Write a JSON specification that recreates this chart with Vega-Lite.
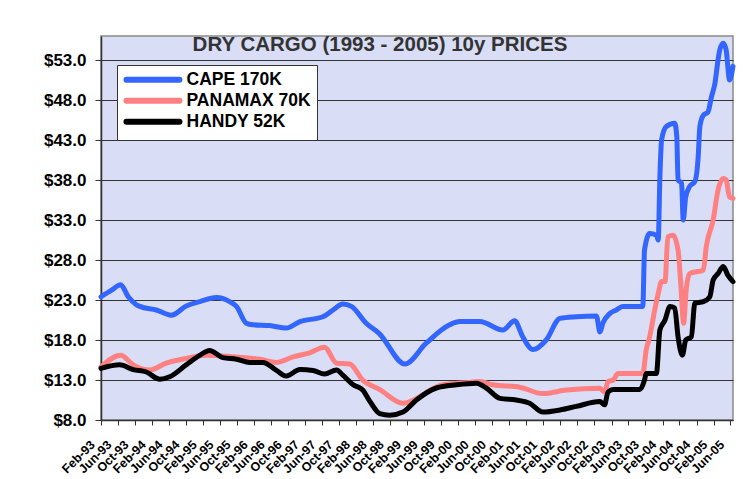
{
  "$schema": "https://vega.github.io/schema/vega-lite/v6.json",
  "width": 632,
  "height": 384,
  "autosize": {"type": "none"},
  "padding": {"left": 101, "top": 36, "right": 10, "bottom": 59},
  "background": "white",
  "title": {
    "text": "DRY CARGO (1993 - 2005) 10y PRICES",
    "font": "Liberation Sans",
    "fontSize": 20.5,
    "fontWeight": "bold",
    "color": "#333333",
    "anchor": "middle",
    "dx": -37,
    "baseline": "alphabetic",
    "offset": -35
  },
  "config": {
    "view": {"fill": "#D9DDF5", "stroke": "#8a8a8a", "strokeWidth": 1.5},
    "legend": {
      "orient": "none",
      "legendX": 16,
      "legendY": 29,
      "fillColor": "white",
      "strokeColor": "#333333",
      "padding": 6,
      "symbolType": "M-1,0H9",
      "symbolSize": 112.4,
      "symbolStrokeWidth": 6,
      "labelFont": "Liberation Sans",
      "labelFontSize": 17.5,
      "labelFontWeight": "bold",
      "labelColor": "black",
      "labelOffset": 46,
      "rowPadding": -4
    }
  },
  "datasets": {
    "prices": [
      {"d": "1993-02-01", "s": "CAPE 170K", "v": 23.4},
      {"d": "1993-04-15", "s": "CAPE 170K", "v": 24.2},
      {"d": "1993-06-22", "s": "CAPE 170K", "v": 24.9},
      {"d": "1993-08-15", "s": "CAPE 170K", "v": 23.4},
      {"d": "1993-10-13", "s": "CAPE 170K", "v": 22.4},
      {"d": "1993-11-06", "s": "CAPE 170K", "v": 22.2},
      {"d": "1994-03-04", "s": "CAPE 170K", "v": 21.75},
      {"d": "1994-06-19", "s": "CAPE 170K", "v": 21.1},
      {"d": "1994-10-04", "s": "CAPE 170K", "v": 22.25},
      {"d": "1995-01-10", "s": "CAPE 170K", "v": 22.8},
      {"d": "1995-05-07", "s": "CAPE 170K", "v": 23.3},
      {"d": "1995-08-10", "s": "CAPE 170K", "v": 22.8},
      {"d": "1995-09-28", "s": "CAPE 170K", "v": 22.2},
      {"d": "1995-12-07", "s": "CAPE 170K", "v": 20.1},
      {"d": "1996-01-25", "s": "CAPE 170K", "v": 19.9},
      {"d": "1996-05-22", "s": "CAPE 170K", "v": 19.8},
      {"d": "1996-09-19", "s": "CAPE 170K", "v": 19.5},
      {"d": "1996-12-25", "s": "CAPE 170K", "v": 20.3},
      {"d": "1997-06-07", "s": "CAPE 170K", "v": 20.9},
      {"d": "1997-08-19", "s": "CAPE 170K", "v": 21.75},
      {"d": "1997-10-28", "s": "CAPE 170K", "v": 22.5},
      {"d": "1997-12-28", "s": "CAPE 170K", "v": 22.2},
      {"d": "1998-04-13", "s": "CAPE 170K", "v": 20.1},
      {"d": "1998-07-16", "s": "CAPE 170K", "v": 18.8},
      {"d": "1999-01-15", "s": "CAPE 170K", "v": 15.0},
      {"d": "1999-06-16", "s": "CAPE 170K", "v": 17.6},
      {"d": "1999-12-01", "s": "CAPE 170K", "v": 19.9},
      {"d": "2000-02-13", "s": "CAPE 170K", "v": 20.3},
      {"d": "2000-07-04", "s": "CAPE 170K", "v": 20.3},
      {"d": "2000-12-16", "s": "CAPE 170K", "v": 19.25},
      {"d": "2001-03-10", "s": "CAPE 170K", "v": 20.4},
      {"d": "2001-05-07", "s": "CAPE 170K", "v": 18.4},
      {"d": "2001-07-19", "s": "CAPE 170K", "v": 16.8},
      {"d": "2001-10-22", "s": "CAPE 170K", "v": 18.0},
      {"d": "2002-01-28", "s": "CAPE 170K", "v": 20.7},
      {"d": "2002-05-25", "s": "CAPE 170K", "v": 20.9},
      {"d": "2002-10-16", "s": "CAPE 170K", "v": 21.0},
      {"d": "2002-11-10", "s": "CAPE 170K", "v": 19.0},
      {"d": "2002-12-01", "s": "CAPE 170K", "v": 20.1},
      {"d": "2003-01-19", "s": "CAPE 170K", "v": 21.3},
      {"d": "2003-03-07", "s": "CAPE 170K", "v": 21.75},
      {"d": "2003-04-22", "s": "CAPE 170K", "v": 22.2},
      {"d": "2003-09-13", "s": "CAPE 170K", "v": 22.2},
      {"d": "2003-09-25", "s": "CAPE 170K", "v": 29.25},
      {"d": "2003-11-01", "s": "CAPE 170K", "v": 31.3},
      {"d": "2003-12-19", "s": "CAPE 170K", "v": 31.1},
      {"d": "2004-01-01", "s": "CAPE 170K", "v": 30.5},
      {"d": "2004-01-13", "s": "CAPE 170K", "v": 38.4},
      {"d": "2004-01-25", "s": "CAPE 170K", "v": 43.0},
      {"d": "2004-02-28", "s": "CAPE 170K", "v": 44.7},
      {"d": "2004-04-28", "s": "CAPE 170K", "v": 45.1},
      {"d": "2004-05-13", "s": "CAPE 170K", "v": 43.4},
      {"d": "2004-05-22", "s": "CAPE 170K", "v": 38.0},
      {"d": "2004-06-16", "s": "CAPE 170K", "v": 37.6},
      {"d": "2004-06-28", "s": "CAPE 170K", "v": 33.0},
      {"d": "2004-07-16", "s": "CAPE 170K", "v": 35.9},
      {"d": "2004-08-13", "s": "CAPE 170K", "v": 37.2},
      {"d": "2004-09-19", "s": "CAPE 170K", "v": 37.8},
      {"d": "2004-10-13", "s": "CAPE 170K", "v": 40.9},
      {"d": "2004-10-25", "s": "CAPE 170K", "v": 44.7},
      {"d": "2004-11-19", "s": "CAPE 170K", "v": 46.1},
      {"d": "2004-12-22", "s": "CAPE 170K", "v": 46.5},
      {"d": "2005-01-16", "s": "CAPE 170K", "v": 48.4},
      {"d": "2005-02-10", "s": "CAPE 170K", "v": 50.1},
      {"d": "2005-03-04", "s": "CAPE 170K", "v": 53.0},
      {"d": "2005-03-16", "s": "CAPE 170K", "v": 54.25},
      {"d": "2005-04-10", "s": "CAPE 170K", "v": 55.1},
      {"d": "2005-05-01", "s": "CAPE 170K", "v": 54.25},
      {"d": "2005-05-13", "s": "CAPE 170K", "v": 52.2},
      {"d": "2005-05-25", "s": "CAPE 170K", "v": 50.5},
      {"d": "2005-06-19", "s": "CAPE 170K", "v": 52.2},

      {"d": "1993-02-01", "s": "PANAMAX 70K", "v": 14.65},
      {"d": "1993-06-22", "s": "PANAMAX 70K", "v": 16.1},
      {"d": "1993-09-19", "s": "PANAMAX 70K", "v": 14.9},
      {"d": "1994-01-16", "s": "PANAMAX 70K", "v": 14.25},
      {"d": "1994-05-13", "s": "PANAMAX 70K", "v": 15.1},
      {"d": "1994-10-04", "s": "PANAMAX 70K", "v": 15.7},
      {"d": "1995-02-25", "s": "PANAMAX 70K", "v": 16.1},
      {"d": "1995-09-04", "s": "PANAMAX 70K", "v": 15.9},
      {"d": "1996-03-13", "s": "PANAMAX 70K", "v": 15.6},
      {"d": "1996-07-10", "s": "PANAMAX 70K", "v": 15.2},
      {"d": "1996-11-07", "s": "PANAMAX 70K", "v": 15.9},
      {"d": "1997-03-04", "s": "PANAMAX 70K", "v": 16.4},
      {"d": "1997-06-19", "s": "PANAMAX 70K", "v": 17.1},
      {"d": "1997-09-13", "s": "PANAMAX 70K", "v": 15.1},
      {"d": "1997-12-16", "s": "PANAMAX 70K", "v": 15.0},
      {"d": "1998-03-19", "s": "PANAMAX 70K", "v": 13.0},
      {"d": "1998-07-19", "s": "PANAMAX 70K", "v": 11.8},
      {"d": "1999-01-01", "s": "PANAMAX 70K", "v": 10.1},
      {"d": "1999-10-13", "s": "PANAMAX 70K", "v": 12.4},
      {"d": "2000-04-22", "s": "PANAMAX 70K", "v": 12.7},
      {"d": "2000-07-04", "s": "PANAMAX 70K", "v": 12.8},
      {"d": "2000-10-04", "s": "PANAMAX 70K", "v": 12.4},
      {"d": "2001-04-16", "s": "PANAMAX 70K", "v": 12.1},
      {"d": "2001-09-28", "s": "PANAMAX 70K", "v": 11.3},
      {"d": "2002-03-16", "s": "PANAMAX 70K", "v": 11.75},
      {"d": "2002-11-10", "s": "PANAMAX 70K", "v": 11.96},
      {"d": "2002-12-13", "s": "PANAMAX 70K", "v": 11.5},
      {"d": "2003-01-07", "s": "PANAMAX 70K", "v": 12.8},
      {"d": "2003-02-13", "s": "PANAMAX 70K", "v": 13.0},
      {"d": "2003-03-19", "s": "PANAMAX 70K", "v": 13.8},
      {"d": "2003-09-13", "s": "PANAMAX 70K", "v": 13.8},
      {"d": "2003-10-07", "s": "PANAMAX 70K", "v": 16.75},
      {"d": "2003-11-01", "s": "PANAMAX 70K", "v": 18.4},
      {"d": "2003-12-07", "s": "PANAMAX 70K", "v": 21.75},
      {"d": "2004-01-01", "s": "PANAMAX 70K", "v": 23.8},
      {"d": "2004-01-25", "s": "PANAMAX 70K", "v": 25.3},
      {"d": "2004-02-19", "s": "PANAMAX 70K", "v": 25.3},
      {"d": "2004-03-10", "s": "PANAMAX 70K", "v": 30.9},
      {"d": "2004-04-16", "s": "PANAMAX 70K", "v": 31.1},
      {"d": "2004-05-22", "s": "PANAMAX 70K", "v": 29.25},
      {"d": "2004-06-10", "s": "PANAMAX 70K", "v": 25.1},
      {"d": "2004-07-01", "s": "PANAMAX 70K", "v": 20.1},
      {"d": "2004-07-19", "s": "PANAMAX 70K", "v": 24.25},
      {"d": "2004-08-13", "s": "PANAMAX 70K", "v": 26.3},
      {"d": "2004-11-19", "s": "PANAMAX 70K", "v": 26.75},
      {"d": "2004-12-10", "s": "PANAMAX 70K", "v": 29.7},
      {"d": "2005-01-28", "s": "PANAMAX 70K", "v": 33.0},
      {"d": "2005-03-04", "s": "PANAMAX 70K", "v": 36.75},
      {"d": "2005-04-10", "s": "PANAMAX 70K", "v": 38.2},
      {"d": "2005-05-01", "s": "PANAMAX 70K", "v": 38.0},
      {"d": "2005-05-25", "s": "PANAMAX 70K", "v": 35.9},
      {"d": "2005-06-19", "s": "PANAMAX 70K", "v": 35.7},

      {"d": "1993-02-01", "s": "HANDY 52K", "v": 14.46},
      {"d": "1993-06-15", "s": "HANDY 52K", "v": 14.9},
      {"d": "1993-09-19", "s": "HANDY 52K", "v": 14.3},
      {"d": "1993-12-22", "s": "HANDY 52K", "v": 14.0},
      {"d": "1994-03-28", "s": "HANDY 52K", "v": 13.1},
      {"d": "1994-06-07", "s": "HANDY 52K", "v": 13.4},
      {"d": "1994-10-04", "s": "HANDY 52K", "v": 14.9},
      {"d": "1995-01-10", "s": "HANDY 52K", "v": 16.1},
      {"d": "1995-03-19", "s": "HANDY 52K", "v": 16.7},
      {"d": "1995-06-22", "s": "HANDY 52K", "v": 15.8},
      {"d": "1995-09-28", "s": "HANDY 52K", "v": 15.6},
      {"d": "1996-01-01", "s": "HANDY 52K", "v": 15.2},
      {"d": "1996-04-04", "s": "HANDY 52K", "v": 15.2},
      {"d": "1996-07-10", "s": "HANDY 52K", "v": 14.2},
      {"d": "1996-09-19", "s": "HANDY 52K", "v": 13.5},
      {"d": "1996-12-25", "s": "HANDY 52K", "v": 14.3},
      {"d": "1997-03-28", "s": "HANDY 52K", "v": 14.2},
      {"d": "1997-06-19", "s": "HANDY 52K", "v": 13.75},
      {"d": "1997-09-13", "s": "HANDY 52K", "v": 14.25},
      {"d": "1997-10-28", "s": "HANDY 52K", "v": 13.6},
      {"d": "1998-01-10", "s": "HANDY 52K", "v": 12.4},
      {"d": "1998-03-19", "s": "HANDY 52K", "v": 11.75},
      {"d": "1998-05-07", "s": "HANDY 52K", "v": 10.4},
      {"d": "1998-07-19", "s": "HANDY 52K", "v": 8.8},
      {"d": "1998-09-28", "s": "HANDY 52K", "v": 8.6},
      {"d": "1999-01-01", "s": "HANDY 52K", "v": 9.0},
      {"d": "1999-04-07", "s": "HANDY 52K", "v": 10.5},
      {"d": "1999-08-28", "s": "HANDY 52K", "v": 12.0},
      {"d": "2000-01-19", "s": "HANDY 52K", "v": 12.4},
      {"d": "2000-06-10", "s": "HANDY 52K", "v": 12.6},
      {"d": "2000-08-19", "s": "HANDY 52K", "v": 12.0},
      {"d": "2000-11-25", "s": "HANDY 52K", "v": 10.7},
      {"d": "2001-03-22", "s": "HANDY 52K", "v": 10.5},
      {"d": "2001-06-25", "s": "HANDY 52K", "v": 10.1},
      {"d": "2001-09-28", "s": "HANDY 52K", "v": 9.0},
      {"d": "2002-01-28", "s": "HANDY 52K", "v": 9.25},
      {"d": "2002-05-25", "s": "HANDY 52K", "v": 9.7},
      {"d": "2002-11-10", "s": "HANDY 52K", "v": 10.3},
      {"d": "2002-12-13", "s": "HANDY 52K", "v": 9.9},
      {"d": "2003-01-07", "s": "HANDY 52K", "v": 11.5},
      {"d": "2003-02-13", "s": "HANDY 52K", "v": 11.8},
      {"d": "2003-08-22", "s": "HANDY 52K", "v": 11.8},
      {"d": "2003-09-25", "s": "HANDY 52K", "v": 13.0},
      {"d": "2003-10-07", "s": "HANDY 52K", "v": 13.8},
      {"d": "2003-12-19", "s": "HANDY 52K", "v": 13.8},
      {"d": "2004-01-13", "s": "HANDY 52K", "v": 19.25},
      {"d": "2004-02-19", "s": "HANDY 52K", "v": 20.5},
      {"d": "2004-03-25", "s": "HANDY 52K", "v": 22.2},
      {"d": "2004-04-28", "s": "HANDY 52K", "v": 22.0},
      {"d": "2004-05-22", "s": "HANDY 52K", "v": 18.4},
      {"d": "2004-06-22", "s": "HANDY 52K", "v": 16.1},
      {"d": "2004-07-16", "s": "HANDY 52K", "v": 18.0},
      {"d": "2004-08-25", "s": "HANDY 52K", "v": 18.4},
      {"d": "2004-09-19", "s": "HANDY 52K", "v": 22.6},
      {"d": "2004-11-19", "s": "HANDY 52K", "v": 22.8},
      {"d": "2005-01-04", "s": "HANDY 52K", "v": 23.4},
      {"d": "2005-01-28", "s": "HANDY 52K", "v": 25.5},
      {"d": "2005-03-04", "s": "HANDY 52K", "v": 26.3},
      {"d": "2005-04-10", "s": "HANDY 52K", "v": 27.2},
      {"d": "2005-05-13", "s": "HANDY 52K", "v": 26.1},
      {"d": "2005-06-19", "s": "HANDY 52K", "v": 25.3}
    ]
  },
  "data": {"name": "prices"},
  "mark": {"type": "line", "strokeWidth": 5, "strokeCap": "round", "strokeJoin": "round", "interpolate": "monotone"},
  "encoding": {
    "x": {
      "field": "d",
      "type": "temporal",
      "scale": {
        "type": "utc",
        "domain": [
          {"year": 1993, "month": 2, "date": 1, "utc": true},
          {"year": 2005, "month": 6, "date": 19, "utc": true}
        ]
      },
      "axis": {
        "title": null,
        "format": "%b-%y",
        "values": [
          {"year": 1993, "month": 2, "date": 1, "utc": true},
          {"year": 1993, "month": 6, "date": 1, "utc": true},
          {"year": 1993, "month": 10, "date": 1, "utc": true},
          {"year": 1994, "month": 2, "date": 1, "utc": true},
          {"year": 1994, "month": 6, "date": 1, "utc": true},
          {"year": 1994, "month": 10, "date": 1, "utc": true},
          {"year": 1995, "month": 2, "date": 1, "utc": true},
          {"year": 1995, "month": 6, "date": 1, "utc": true},
          {"year": 1995, "month": 10, "date": 1, "utc": true},
          {"year": 1996, "month": 2, "date": 1, "utc": true},
          {"year": 1996, "month": 6, "date": 1, "utc": true},
          {"year": 1996, "month": 10, "date": 1, "utc": true},
          {"year": 1997, "month": 2, "date": 1, "utc": true},
          {"year": 1997, "month": 6, "date": 1, "utc": true},
          {"year": 1997, "month": 10, "date": 1, "utc": true},
          {"year": 1998, "month": 2, "date": 1, "utc": true},
          {"year": 1998, "month": 6, "date": 1, "utc": true},
          {"year": 1998, "month": 10, "date": 1, "utc": true},
          {"year": 1999, "month": 2, "date": 1, "utc": true},
          {"year": 1999, "month": 6, "date": 1, "utc": true},
          {"year": 1999, "month": 10, "date": 1, "utc": true},
          {"year": 2000, "month": 2, "date": 1, "utc": true},
          {"year": 2000, "month": 6, "date": 1, "utc": true},
          {"year": 2000, "month": 10, "date": 1, "utc": true},
          {"year": 2001, "month": 2, "date": 1, "utc": true},
          {"year": 2001, "month": 6, "date": 1, "utc": true},
          {"year": 2001, "month": 10, "date": 1, "utc": true},
          {"year": 2002, "month": 2, "date": 1, "utc": true},
          {"year": 2002, "month": 6, "date": 1, "utc": true},
          {"year": 2002, "month": 10, "date": 1, "utc": true},
          {"year": 2003, "month": 2, "date": 1, "utc": true},
          {"year": 2003, "month": 6, "date": 1, "utc": true},
          {"year": 2003, "month": 10, "date": 1, "utc": true},
          {"year": 2004, "month": 2, "date": 1, "utc": true},
          {"year": 2004, "month": 6, "date": 1, "utc": true},
          {"year": 2004, "month": 10, "date": 1, "utc": true},
          {"year": 2005, "month": 2, "date": 1, "utc": true},
          {"year": 2005, "month": 6, "date": 1, "utc": true}
        ],
        "labelAngle": -45,
        "labelOverlap": false,
        "labelBound": false,
        "labelFlush": false,
        "labelFont": "Liberation Sans",
        "labelFontSize": 12.5,
        "labelFontWeight": "bold",
        "labelColor": "black",
        "labelPadding": 13,
        "labelOffset": -13,
        "grid": false,
        "tickSize": 5,
        "tickColor": "#333333",
        "domainColor": "#333333",
        "domainWidth": 1.5
      }
    },
    "y": {
      "field": "v",
      "type": "quantitative",
      "scale": {"domain": [8, 56], "nice": false, "zero": false},
      "axis": {
        "title": null,
        "values": [8, 13, 18, 23, 28, 33, 38, 43, 48, 53],
        "format": "$.1f",
        "labelFont": "Liberation Sans",
        "labelFontSize": 17,
        "labelFontWeight": "bold",
        "labelColor": "black",
        "labelPadding": 9,
        "tickSize": 6,
        "tickColor": "#333333",
        "domainColor": "#333333",
        "domainWidth": 1.5,
        "gridColor": "#333333",
        "gridWidth": 1,
        "gridOpacity": 1
      }
    },
    "color": {
      "field": "s",
      "type": "nominal",
      "scale": {
        "domain": ["CAPE 170K", "PANAMAX 70K", "HANDY 52K"],
        "range": ["#3366FF", "#FF8080", "#000000"]
      },
      "legend": {
        "title": null,
        "encode": {"symbols": {"update": {"strokeCap": {"value": "round"}}}}
      }
    }
  }
}
